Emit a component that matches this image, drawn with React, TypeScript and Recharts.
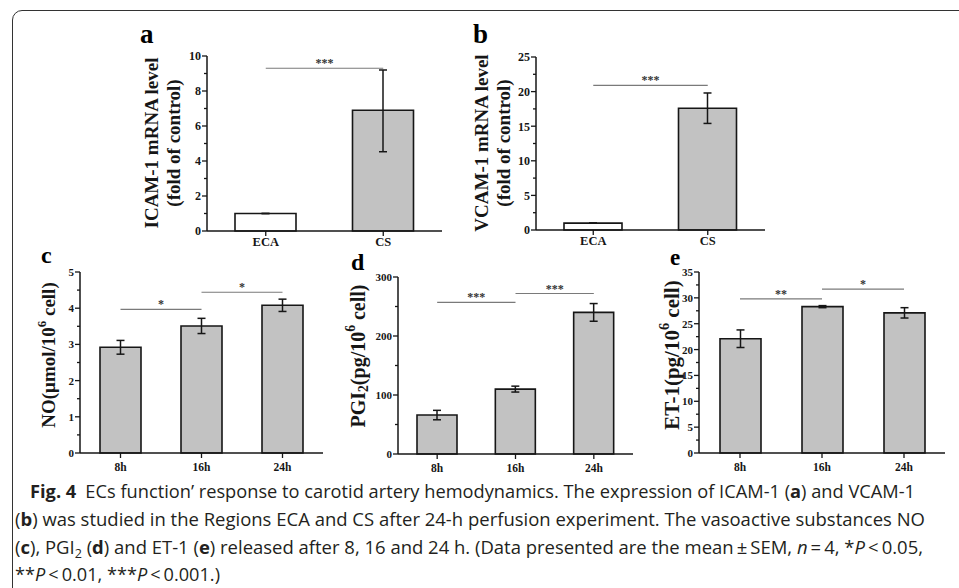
import React from "react";
import { Bar, BarChart, Cell, ErrorBar, ReferenceLine, XAxis, YAxis } from "recharts";

// ICAM-1 / VCAM-1 (a, b)
const regionNames = ["ECA", "CS"];
const regionFills = ["#ffffff", "#c2c2c2"];
const icamValues = [1.0, 6.9];
const icamErrors = [[0, 0], [2.37, 2.3]];
const vcamValues = [1.0, 17.6];
const vcamErrors = [[0, 0], [2.2, 2.2]];

// NO, PGI2, ET-1 (c, d, e)
const timeNames = ["8h", "16h", "24h"];
const noValues = [2.92, 3.51, 4.08];
const noErrors = [0.19, 0.21, 0.17];
const pgiValues = [66, 110, 240];
const pgiErrors = [8, 5, 15];
const etValues = [22.1, 28.3, 27.1];
const etErrors = [1.7, 0.2, 1.0];

// axis ticks
const icamTicks = [0, 2, 4, 6, 8, 10];
const icamMinor = [1, 3, 5, 7, 9];
const vcamTicks = [0, 5, 10, 15, 20, 25];
const vcamMinor = [2.5, 7.5, 12.5, 17.5, 22.5];
const noTicks = [0, 1, 2, 3, 4, 5];
const noMinor = [0.5, 1.5, 2.5, 3.5, 4.5];
const pgiTicks = [0, 100, 200, 300];
const pgiMinor = [50, 150, 250];
const etTicks = [0, 5, 10, 15, 20, 25, 30, 35];
const etMinor = [2.5, 7.5, 12.5, 17.5, 22.5, 27.5, 32.5];

// significance brackets
const icamSig = [{ from: "ECA", to: "CS", y: 9.3, mark: "***" }];
const vcamSig = [{ from: "ECA", to: "CS", y: 20.9, mark: "***" }];
const noSig = [
  { from: "8h", to: "16h", y: 3.97, mark: "*" },
  { from: "16h", to: "24h", y: 4.44, mark: "*" },
];
const pgiSig = [
  { from: "8h", to: "16h", y: 257, mark: "***" },
  { from: "16h", to: "24h", y: 272, mark: "***" },
];
const etSig = [
  { from: "8h", to: "16h", y: 29.8, mark: "**" },
  { from: "16h", to: "24h", y: 31.7, mark: "*" },
];

const SERIF = "'Liberation Serif', 'Times New Roman', serif";
const SANS = "'Open Sans', 'Noto Sans', sans-serif";
const INK = "#161616";

type Seg = { t: string; sup?: boolean; sub?: boolean; b?: boolean; i?: boolean };

function segSpans(segs: Seg[], supShift: number, subShift: number) {
  let cur = 0;
  return segs.map((s, k) => {
    const target = s.sup ? -supShift : s.sub ? subShift : 0;
    const dy = target - cur;
    cur = target;
    return (
      <tspan
        key={k}
        dy={dy}
        fontSize={s.sup || s.sub ? "68%" : undefined}
        fontWeight={s.b ? 700 : undefined}
        fontStyle={s.i ? "italic" : undefined}
      >
        {s.t}
      </tspan>
    );
  });
}

function YTick(props: any) {
  const { x, y, payload, major, size } = props;
  const isMajor = major.includes(payload.value);
  return (
    <g>
      <line x1={x} x2={x - (isMajor ? 5 : 3)} y1={y} y2={y} stroke={INK} strokeWidth={1.3} />
      {isMajor && (
        <text x={x - 6} y={y} dy="0.36em" textAnchor="end" fontFamily={SERIF} fontWeight={700} fontSize={size} fill={INK}>
          {payload.value}
        </text>
      )}
    </g>
  );
}

function XTick(props: any) {
  const { x, y, payload, shift, size } = props;
  return (
    <g>
      <line x1={x} x2={x} y1={y} y2={y + 5} stroke={INK} strokeWidth={1.3} />
      <text x={x} y={y + shift} textAnchor="middle" fontFamily={SERIF} fontWeight={700} fontSize={size} fill={INK}>
        {payload.value}
      </text>
    </g>
  );
}

type PanelProps = {
  box: { left: number; top: number; width: number; height: number };
  plot: { left: number; top: number; right: number; bottom: number };
  names: string[];
  values: number[];
  errors: any[];
  fills?: string[];
  ticks: number[];
  minor: number[];
  sig: { from: string; to: string; y: number; mark: string }[];
  barSize: number;
  title: { x: number; y: number; segs: Seg[] }[];
  titleSize: number;
  tickSize: number;
  xDy: number;
};

function Panel(p: PanelProps) {
  const data = p.names.map((n, i) => ({
    name: n,
    value: p.values[i],
    err: p.errors[i],
    fill: p.fills ? p.fills[i] : "#c2c2c2",
  }));
  const domainMax = p.ticks[p.ticks.length - 1];
  const margin = {
    top: p.plot.top - p.box.top,
    right: p.box.left + p.box.width - p.plot.right,
    left: 0,
    bottom: 0,
  };
  const yWidth = p.plot.left - p.box.left;
  const xHeight = p.box.top + p.box.height - p.plot.bottom;
  const allTicks = [...p.ticks, ...p.minor].sort((a, b) => a - b);

  const titleContent = () => (
    <g>
      {p.title.map((line, k) => {
        const tx = line.x - p.box.left;
        const ty = line.y - p.box.top;
        return (
          <text
            key={k}
            x={tx}
            y={ty}
            transform={`rotate(-90 ${tx} ${ty})`}
            textAnchor="middle"
            dominantBaseline="central"
            fontFamily={SERIF}
            fontWeight={700}
            fontSize={p.titleSize}
            fill={INK}
          >
            {segSpans(line.segs, p.titleSize * 0.38, p.titleSize * 0.25)}
          </text>
        );
      })}
    </g>
  );

  return (
    <div style={{ position: "absolute", left: p.box.left, top: p.box.top }}>
      <BarChart width={p.box.width} height={p.box.height} data={data} margin={margin}>
        <XAxis
          dataKey="name"
          height={xHeight}
          axisLine={{ stroke: INK, strokeWidth: 1.5 }}
          tickLine={false}
          tickSize={0}
          tickMargin={0}
          interval={0}
          tick={(tp: any) => <XTick {...tp} shift={p.xDy} size={p.tickSize + 0.5} />}
        />
        <YAxis
          width={yWidth}
          domain={[0, domainMax]}
          ticks={allTicks}
          interval={0}
          axisLine={{ stroke: INK, strokeWidth: 1.5 }}
          tickLine={false}
          tickSize={0}
          tickMargin={0}
          tick={(tp: any) => <YTick {...tp} major={p.ticks} size={p.tickSize} />}
          label={{ content: titleContent }}
        />
        {p.sig.map((s, i) => (
          <ReferenceLine
            key={i}
            segment={[
              { x: s.from, y: s.y },
              { x: s.to, y: s.y },
            ]}
            stroke="#7a7a7a"
            strokeWidth={1.2}
            ifOverflow="visible"
            label={{ value: s.mark, position: "top", offset: 1, fill: "#333", fontSize: 12, fontFamily: SERIF, fontWeight: 700 }}
          />
        ))}
        <Bar dataKey="value" barSize={p.barSize} stroke={INK} strokeWidth={1.6} isAnimationActive={false}>
          {data.map((d, i) => (
            <Cell key={i} fill={d.fill} />
          ))}
          <ErrorBar dataKey="err" width={4} stroke={INK} strokeWidth={1.5} />
        </Bar>
      </BarChart>
    </div>
  );
}

const captionLines: { x: number; y: number; len: number; segs: Seg[] }[] = [
  {
    x: 30,
    y: 498,
    len: 885,
    segs: [
      { t: "Fig. 4", b: true },
      { t: "\u2002ECs function\u2019 response to carotid artery hemodynamics. The expression of ICAM-1 (" },
      { t: "a", b: true },
      { t: ") and VCAM-1" },
    ],
  },
  {
    x: 15,
    y: 526,
    len: 910,
    segs: [
      { t: "(" },
      { t: "b", b: true },
      { t: ") was studied in the Regions ECA and CS after 24-h perfusion experiment. The vasoactive substances NO" },
    ],
  },
  {
    x: 15,
    y: 554,
    len: 908,
    segs: [
      { t: "(" },
      { t: "c", b: true },
      { t: "), PGI" },
      { t: "2", sub: true },
      { t: " (" },
      { t: "d", b: true },
      { t: ") and ET-1 (" },
      { t: "e", b: true },
      { t: ") released after 8, 16 and 24 h. (Data presented are the mean\u2009\u00b1\u2009SEM, " },
      { t: "n", i: true },
      { t: "\u2009=\u20094, *" },
      { t: "P", i: true },
      { t: "\u2009<\u20090.05," },
    ],
  },
  {
    x: 15,
    y: 581,
    len: 205,
    segs: [
      { t: "**" },
      { t: "P", i: true },
      { t: "\u2009<\u20090.01, ***" },
      { t: "P", i: true },
      { t: "\u2009<\u20090.001.)" },
    ],
  },
];

const panelLetters = [
  { t: "a", x: 140, y: 43, size: 27 },
  { t: "b", x: 473, y: 43, size: 27 },
  { t: "c", x: 41, y: 263, size: 24 },
  { t: "d", x: 351, y: 270, size: 24 },
  { t: "e", x: 670, y: 265, size: 23 },
];

export default function App() {
  return (
    <div style={{ position: "absolute", left: 0, top: 0, width: 959, height: 588, overflow: "hidden", background: "#fff" }}>
      <div
        style={{
          position: "absolute",
          left: 12,
          top: 10,
          width: 1000,
          height: 640,
          border: "1.5px solid #333",
          borderTopLeftRadius: 10,
        }}
      />
      <Panel
        box={{ left: 130, top: 20, width: 322, height: 230 }}
        plot={{ left: 207, top: 56, right: 442, bottom: 231 }}
        names={regionNames}
        values={icamValues}
        errors={icamErrors}
        fills={regionFills}
        ticks={icamTicks}
        minor={icamMinor}
        sig={icamSig}
        barSize={61}
        title={[
          { x: 151, y: 143, segs: [{ t: "ICAM-1 mRNA level" }] },
          { x: 173, y: 143, segs: [{ t: "(fold of control)" }] },
        ]}
        titleSize={19}
        tickSize={12}
        xDy={15}
      />
      <Panel
        box={{ left: 460, top: 20, width: 315, height: 230 }}
        plot={{ left: 536, top: 57, right: 765, bottom: 230 }}
        names={regionNames}
        values={vcamValues}
        errors={vcamErrors}
        fills={regionFills}
        ticks={vcamTicks}
        minor={vcamMinor}
        sig={vcamSig}
        barSize={58}
        title={[
          { x: 481, y: 143, segs: [{ t: "VCAM-1 mRNA level" }] },
          { x: 503, y: 143, segs: [{ t: "(fold of control)" }] },
        ]}
        titleSize={19}
        tickSize={12}
        xDy={15}
      />
      <Panel
        box={{ left: 15, top: 255, width: 318, height: 225 }}
        plot={{ left: 80, top: 272, right: 323, bottom: 453 }}
        names={timeNames}
        values={noValues}
        errors={noErrors}
        ticks={noTicks}
        minor={noMinor}
        sig={noSig}
        barSize={41}
        title={[{ x: 48, y: 355, segs: [{ t: "NO(\u03bcmol/10" }, { t: "6", sup: true }, { t: " cell)" }] }]}
        titleSize={19}
        tickSize={11}
        xDy={18}
      />
      <Panel
        box={{ left: 330, top: 255, width: 313, height: 225 }}
        plot={{ left: 398, top: 277, right: 633, bottom: 454 }}
        names={timeNames}
        values={pgiValues}
        errors={pgiErrors}
        ticks={pgiTicks}
        minor={pgiMinor}
        sig={pgiSig}
        barSize={40}
        title={[
          {
            x: 358,
            y: 356,
            segs: [{ t: "PGI" }, { t: "2", sub: true }, { t: "(pg/10" }, { t: "6", sup: true }, { t: " cell)" }],
          },
        ]}
        titleSize={20}
        tickSize={11}
        xDy={18}
      />
      <Panel
        box={{ left: 640, top: 255, width: 315, height: 225 }}
        plot={{ left: 699, top: 272, right: 945, bottom: 453 }}
        names={timeNames}
        values={etValues}
        errors={etErrors}
        ticks={etTicks}
        minor={etMinor}
        sig={etSig}
        barSize={41}
        title={[{ x: 672, y: 355, segs: [{ t: "ET-1(pg/10" }, { t: "6", sup: true }, { t: " cell)" }] }]}
        titleSize={21}
        tickSize={11}
        xDy={18}
      />
      <svg width={959} height={588} style={{ position: "absolute", left: 0, top: 0, pointerEvents: "none" }}>
        {panelLetters.map((l) => (
          <text key={l.t} x={l.x} y={l.y} fontFamily={SERIF} fontWeight={700} fontSize={l.size} fill="#000">
            {l.t}
          </text>
        ))}
        {captionLines.map((line, k) => (
          <text
            key={k}
            x={line.x}
            y={line.y}
            textLength={line.len}
            lengthAdjust="spacingAndGlyphs"
            fontFamily={SANS}
            fontSize={18}
            fill="#231f20"
          >
            {segSpans(line.segs, 6, 4)}
          </text>
        ))}
      </svg>
    </div>
  );
}
